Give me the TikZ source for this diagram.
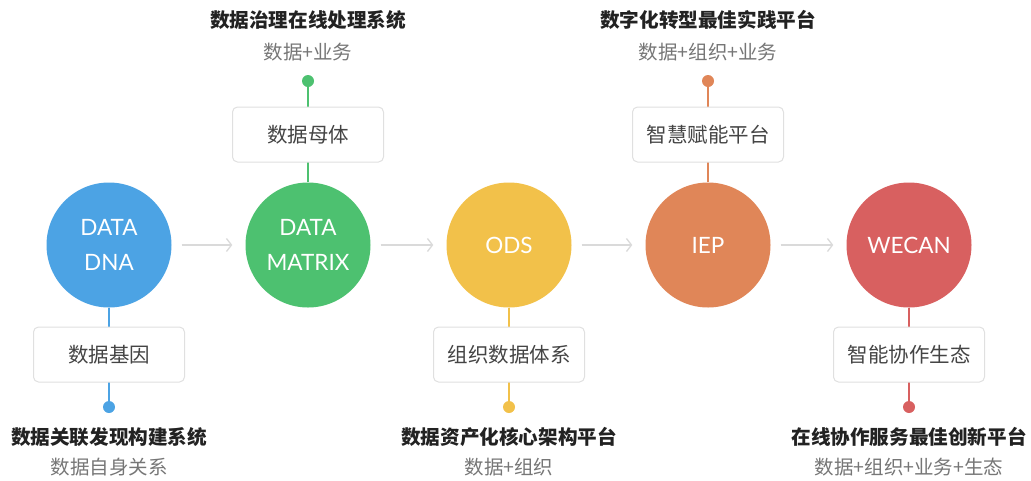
\documentclass[tikz,border=0pt]{standalone}
\usepackage{fontspec}
\setmainfont{Lato}
\newfontfamily\cjk{Noto Sans CJK SC}
\usetikzlibrary{arrows.meta,positioning}

\begin{document}
\begin{tikzpicture}[x=1pt,y=-1pt,
    stage/.style={circle,minimum size=125pt,inner sep=0pt,text=white,align=center,font=\fontsize{22.5}{35}\selectfont},
    tagbox/.style={draw=boxline,fill=white,rounded corners=5pt,line width=1pt,minimum width=151pt,minimum height=55pt,text=boxtext,font=\cjk\fontsize{20.5}{24}\selectfont},
    pin/.style={circle,inner sep=0pt,minimum size=12pt},
    title/.style={text=titletext,font=\cjk\bfseries\fontsize{19.6}{23}\selectfont},
    subtitle/.style={text=subtext,font=\cjk\fontsize{19.5}{23}\selectfont},
    flow/.style={draw=arrowgray,line width=1.3pt,-{Straight Barb[length=5pt,width=13pt]}}]

    % Define colors
    \definecolor{dnablue}{RGB}{76,163,228}
    \definecolor{matrixgreen}{RGB}{77,193,112}
    \definecolor{odsyellow}{RGB}{242,193,74}
    \definecolor{ieporange}{RGB}{224,134,88}
    \definecolor{wecanred}{RGB}{216,96,96}
    \definecolor{boxline}{RGB}{224,224,224}
    \definecolor{boxtext}{RGB}{68,68,68}
    \definecolor{titletext}{RGB}{34,34,34}
    \definecolor{subtext}{RGB}{118,118,118}
    \definecolor{arrowgray}{RGB}{218,218,218}

    \useasboundingbox (0,0) rectangle (1031,480);

    % stages
    \node[stage,fill=dnablue] (dna) at (109,245) {DATA\\DNA};
    \node[stage,fill=matrixgreen] (matrix) at (308,245) {DATA\\MATRIX};
    \node[stage,fill=odsyellow] (ods) at (509,245) {ODS};
    \node[stage,fill=ieporange] (iep) at (708,245) {IEP};
    \node[stage,fill=wecanred] (wecan) at (909,245) {WECAN};

    \draw[flow] ([xshift=10pt]dna.east) -- ([xshift=-13pt]matrix.west);
    \draw[flow] ([xshift=10pt]matrix.east) -- ([xshift=-13pt]ods.west);
    \draw[flow] ([xshift=10pt]ods.east) -- ([xshift=-13pt]iep.west);
    \draw[flow] ([xshift=10pt]iep.east) -- ([xshift=-13pt]wecan.west);

    % DATA DNA, below
    \node[pin,fill=dnablue] (dnapin) at (109,407) {};
    \draw[dnablue,line width=2pt] (dna.south) -- (dnapin.center);
    \node[tagbox] (dnabox) at (109,354.5) {数据基因};
    \node[title] (dnatitle) at (109,437) {数据关联发现构建系统};
    \node[subtitle] (dnasub) at (109,467) {数据自身关系};

    % DATA MATRIX, above
    \node[pin,fill=matrixgreen] (matrixpin) at (308,81) {};
    \draw[matrixgreen,line width=2pt] (matrix.north) -- (matrixpin.center);
    \node[tagbox] (matrixbox) at (308,134.5) {数据母体};
    \node[title] (matrixtitle) at (308,20) {数据治理在线处理系统};
    \node[subtitle] (matrixsub) at (308,52) {数据+业务};

    % ODS, below
    \node[pin,fill=odsyellow] (odspin) at (509,407) {};
    \draw[odsyellow,line width=2pt] (ods.south) -- (odspin.center);
    \node[tagbox] (odsbox) at (509,354.5) {组织数据体系};
    \node[title] (odstitle) at (509,437) {数据资产化核心架构平台};
    \node[subtitle] (odssub) at (509,467) {数据+组织};

    % IEP, above
    \node[pin,fill=ieporange] (ieppin) at (708,81) {};
    \draw[ieporange,line width=2pt] (iep.north) -- (ieppin.center);
    \node[tagbox] (iepbox) at (708,134.5) {智慧赋能平台};
    \node[title] (ieptitle) at (708,20) {数字化转型最佳实践平台};
    \node[subtitle] (iepsub) at (708,52) {数据+组织+业务};

    % WECAN, below
    \node[pin,fill=wecanred] (wecanpin) at (909,407) {};
    \draw[wecanred,line width=2pt] (wecan.south) -- (wecanpin.center);
    \node[tagbox] (wecanbox) at (909,354.5) {智能协作生态};
    \node[title] (wecantitle) at (909,437) {在线协作服务最佳创新平台};
    \node[subtitle] (wecansub) at (909,467) {数据+组织+业务+生态};

\end{tikzpicture}
\end{document}
